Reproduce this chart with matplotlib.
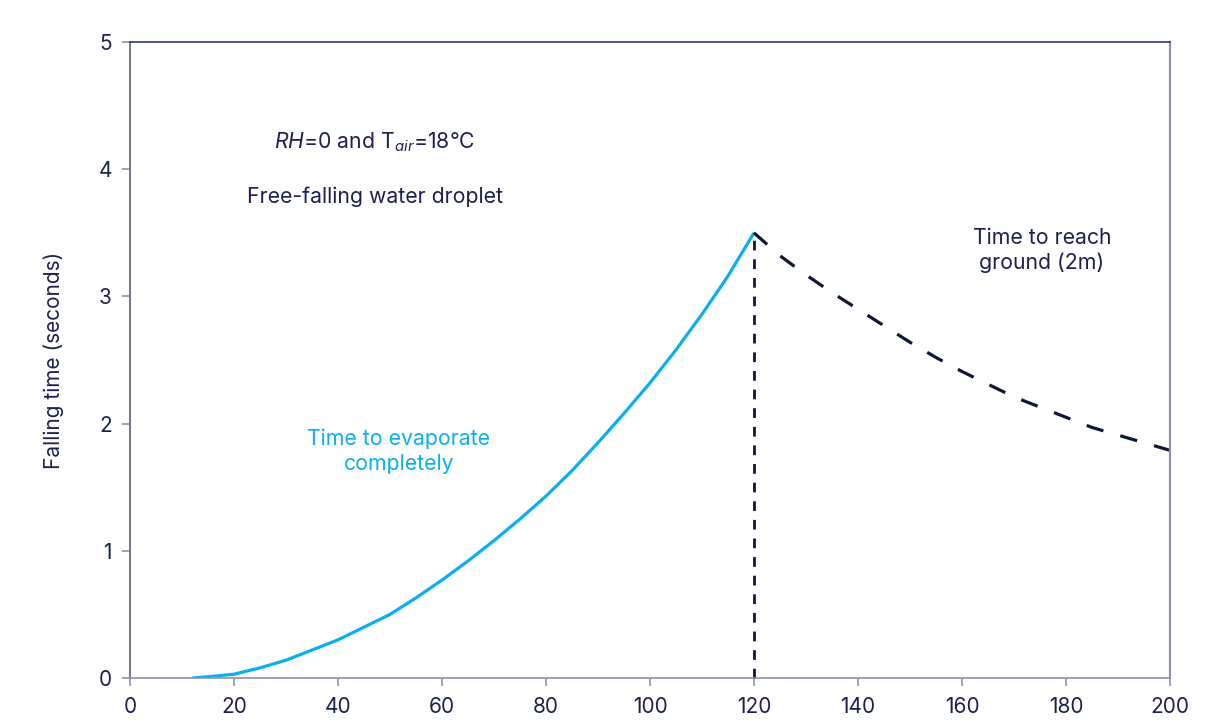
import matplotlib.pyplot as plt

plt.rcParams['font.family'] = ['Inter', 'DejaVu Sans']
plt.rcParams['mathtext.fontset'] = 'custom'
plt.rcParams['mathtext.rm'] = 'Inter'
plt.rcParams['mathtext.it'] = 'Inter:italic'

navy = '#1B2150'
blue = '#0AAFF0'
grey = '#8E92AA'

# time to evaporate completely (s) vs droplet diameter (um)
evap_d = [12, 15, 20, 25, 30, 35, 40, 45, 50, 55, 60, 65, 70, 75, 80, 85, 90, 95,
          100, 105, 110, 115, 120]
evap_t = [0.0, 0.01, 0.03, 0.08, 0.14, 0.22, 0.30, 0.40, 0.50, 0.63, 0.77, 0.92,
          1.08, 1.25, 1.43, 1.63, 1.85, 2.08, 2.32, 2.58, 2.86, 3.16, 3.50]

# time to fall 2 m (s)
fall_d = [120, 125, 130, 135, 140, 145, 150, 155, 160, 165, 170, 175, 180, 185,
          190, 195, 200]
fall_t = [3.50, 3.32, 3.17, 3.03, 2.90, 2.77, 2.64, 2.52, 2.41, 2.31, 2.21, 2.13,
          2.05, 1.97, 1.91, 1.85, 1.79]

cross_d = 120
cross_t = 3.50

fig = plt.figure(figsize=(12.08, 7.21), dpi=100)
ax = fig.add_axes([0.1076, 0.0596, 0.8609, 0.8821])

ax.plot(evap_d, evap_t, color=blue, lw=2.3, solid_capstyle='butt', solid_joinstyle='round')
ax.plot(fall_d, fall_t, color='#0D1838', lw=2.3, dashes=(5.5, 5.5))
ax.plot([cross_d, cross_d], [0, cross_t], color='#0D1838', lw=2.0, dashes=(3.5, 3.2), clip_on=False)

ax.set_xlim(0, 200)
ax.set_ylim(0, 5)
ax.set_xticks(range(0, 201, 20))
ax.set_yticks(range(0, 6))

ax.spines['top'].set_color('#2B3A67')
ax.spines['left'].set_color('#5A6080')
ax.spines['right'].set_color(grey)
ax.spines['bottom'].set_color(grey)
for s in ax.spines.values():
    s.set_linewidth(1.2)
ax.spines['right'].set_linewidth(1.6)

ax.tick_params(axis='both', direction='out', length=6, width=1.2, color=grey,
               labelsize=15, labelcolor=navy)
ax.tick_params(axis='x', pad=8)
ax.tick_params(axis='y', pad=7)

ax.set_ylabel('Falling time (seconds)', fontsize=15, color=navy, labelpad=25)

fs = 15.3
ax.text(47.1, 4.21, r'$RH$=0 and T$_{air}$=18°C', fontsize=fs, color=navy,
        ha='center', va='center')
ax.text(47.1, 3.78, 'Free-falling water droplet', fontsize=fs, color=navy,
        ha='center', va='center')
ax.text(51.7, 1.78, 'Time to evaporate\ncompletely', fontsize=fs, color=blue,
        ha='center', va='center', linespacing=1.3)
ax.text(175.4, 3.36, 'Time to reach\nground (2m)', fontsize=fs, color=navy,
        ha='center', va='center', linespacing=1.3)

fig.savefig('out.png', dpi=100)
